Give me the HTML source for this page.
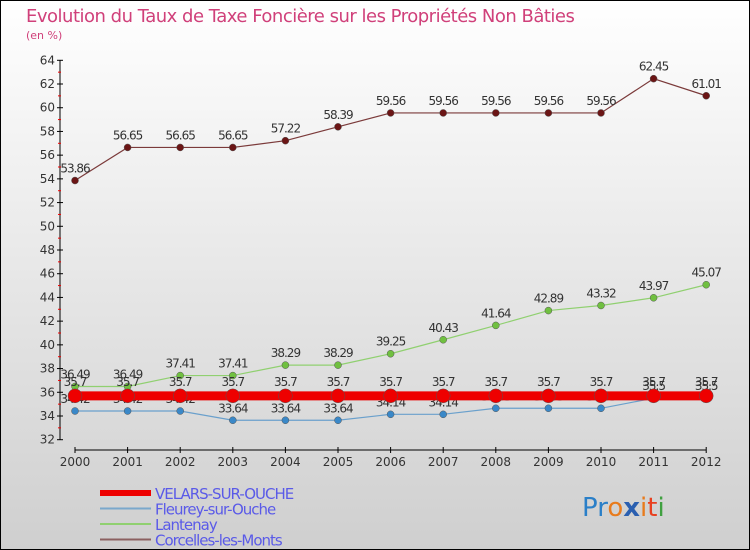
<!DOCTYPE html>
<html><head><meta charset="utf-8"><style>
html,body{margin:0;padding:0}
body{width:750px;height:550px;overflow:hidden}
svg{display:block;font-family:"DejaVu Sans","Liberation Sans",sans-serif}
</style></head><body>
<svg id="chart" width="750" height="550" xmlns="http://www.w3.org/2000/svg">
<defs><linearGradient id="bg" x1="0" y1="0" x2="0" y2="1"><stop offset="0" stop-color="#ffffff"/><stop offset="1" stop-color="#cfcfcf"/></linearGradient></defs>
<rect x="0.5" y="0.5" width="749" height="549" fill="url(#bg)" stroke="#000"/>
<text x="26" y="22" font-size="18" fill="#d0407a" letter-spacing="-0.5">Evolution du Taux de Taxe Foncière sur les Propriétés Non Bâties</text>
<text x="26" y="39" font-size="11" fill="#d0407a">(en %)</text>
<g id="axes"></g><g id="series"></g><g id="legend"></g>
<text x="582" y="516" font-size="26" font-family="'DejaVu Sans',sans-serif"><tspan fill="#2a7fc8">Pr</tspan><tspan fill="#e87b1c">o</tspan><tspan fill="#2a5fb0" font-weight="bold">x</tspan><tspan fill="#e87b1c">i</tspan><tspan fill="#e84020">t</tspan><tspan fill="#40a040">i</tspan></text>
</svg>
<script>
const years=["2000","2001","2002","2003","2004","2005","2006","2007","2008","2009","2010","2011","2012"];
const velars=[35.7,35.7,35.7,35.7,35.7,35.7,35.7,35.7,35.7,35.7,35.7,35.7,35.7];
const fleurey=[34.42,34.42,34.42,33.64,33.64,33.64,34.14,34.14,34.65,34.65,34.65,35.5,35.5];
const lantenay=[36.49,36.49,37.41,37.41,38.29,38.29,39.25,40.43,41.64,42.89,43.32,43.97,45.07];
const corcelles=[53.86,56.65,56.65,56.65,57.22,58.39,59.56,59.56,59.56,59.56,59.56,62.45,61.01];
const yTicks=[32,34,36,38,40,42,44,46,48,50,52,54,56,58,60,62,64];
const names=["VELARS-SUR-OUCHE","Fleurey-sur-Ouche","Lantenay","Corcelles-les-Monts"];
const NS="http://www.w3.org/2000/svg";
const x=i=>75+i*52.6;
const y=v=>439.7-(v-32)*(379.4/32);
function mk(t,a,p){const e=document.createElementNS(NS,t);for(const k in a)e.setAttribute(k,a[k]);p.appendChild(e);return e;}
const ax=document.getElementById('axes');
let e=mk('line',{x1:60,y1:y(64),x2:60,y2:y(32),stroke:'#000'},ax);

yTicks.forEach(v=>{
 mk('line',{x1:57,x2:63,y1:y(v),y2:y(v),stroke:'#000'},ax);
 if(v<64) mk('line',{x1:58,x2:61,y1:y(v+1),y2:y(v+1),stroke:'#e00'},ax);
 const t=mk('text',{x:55,y:y(v)+4,'font-size':12,'text-anchor':'end',fill:'#333'},ax);t.textContent=v;
 
});
e=mk('line',{x1:x(0),y1:450,x2:x(12),y2:450,stroke:'#000'},ax);

years.forEach((yr,i)=>{
 mk('line',{x1:x(i),x2:x(i),y1:447,y2:453,stroke:'#000'},ax);
 const t=mk('text',{x:x(i),y:466,'font-size':12,'text-anchor':'middle',fill:'#333'},ax);t.textContent=yr;
 
});
const sg=document.getElementById('series');
function series(vals,color,dot,w,r,name,lblOff){
 const g=mk('g',{},sg);
 
 mk('polyline',{points:vals.map((v,i)=>x(i)+','+y(v)).join(' '),fill:'none',stroke:color,'stroke-width':w},g);
 vals.forEach((v,i)=>{
  const c=mk('circle',{cx:x(i),cy:y(v),r:r,fill:dot,stroke:'#555','stroke-width':0.5},g);
  
  const t=mk('text',{x:x(i),y:y(v)+lblOff,'font-size':12,'text-anchor':'middle',fill:'#333','letter-spacing':'-1'},g);t.textContent=v;
 });
}
series(corcelles,'#7b3a3a','#6b1515',1.2,3.5,'series-corcelles',-8);
series(lantenay,'#90d070','#70c040',1.2,3.5,'series-lantenay',-8);
series(fleurey,'#6aa0cc','#3a88c8',1.2,3.5,'series-fleurey',-8);
series(velars,'#ee0000','#ee0000',9,7,'series-velars',-10);
const lg=document.getElementById('legend');
const lc=[['#ee0000',6],['#7aa8cc',2],['#90d070',2],['#8b6060',2]];
names.forEach((n,i)=>{
 const yy=493+i*15.5;
 mk('line',{x1:100,x2:151,y1:yy,y2:yy,stroke:lc[i][0],'stroke-width':lc[i][1]},lg);
 const t=mk('text',{x:155,y:yy+6,'font-size':15,fill:'#5a5ae8','letter-spacing':'-1'},lg);t.textContent=n;
 
});
</script>
</body></html>
